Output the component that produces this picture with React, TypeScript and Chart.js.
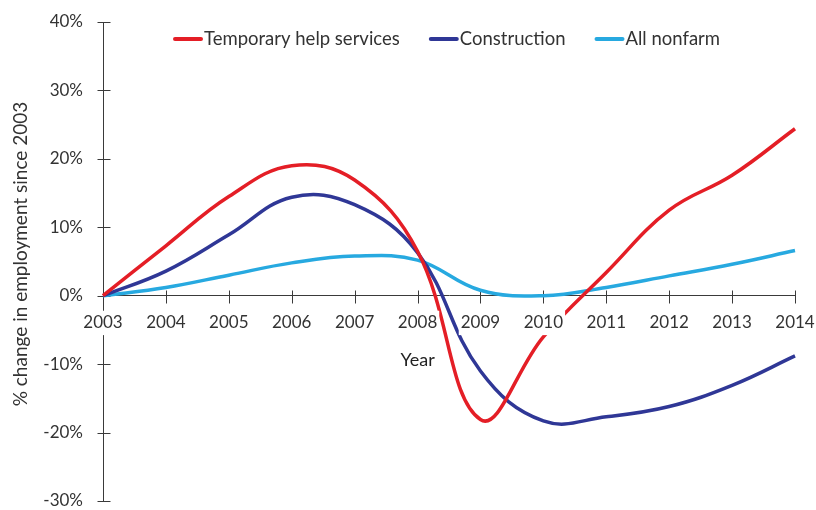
import React, { useEffect, useRef } from "react";
import { Chart, registerables } from "chart.js";

Chart.register(...registerables);

// Yearly points, 2003–2014
const years = [2003, 2004, 2005, 2006, 2007, 2008, 2009, 2010, 2011, 2012, 2013, 2014];

// % change in employment since 2003
const temporaryHelp = [0, 7.3, 14.5, 19.0, 16.9, 6.5, -18.1, -6.0, 3.4, 12.5, 17.6, 24.4];
const construction = [0, 3.6, 8.9, 14.4, 13.3, 6.3, -11.0, -18.3, -17.7, -16.2, -13.1, -8.8];
const allNonfarm = [0, 1.2, 3.0, 4.8, 5.8, 5.2, 0.8, 0.0, 1.2, 2.9, 4.6, 6.6];

const seriesNames = ["Temporary help services", "Construction", "All nonfarm"];
const seriesColors = ["#E41E26", "#2F3796", "#27A9E0"];

const yTicks = [-30, -20, -10, 0, 10, 20, 30, 40];

const yTitle = "% change in employment since 2003";
const xTitle = "Year";

const FONT = "Lato, 'Liberation Sans', sans-serif";
const AXIS_COLOR = "#3a3a3a";
const TEXT_COLOR = "#333333";

// Crossing tick marks on both axes, drawn beneath the series
const crossTicks = {
  id: "crossTicks",
  beforeDatasetsDraw(chart: any) {
    const { ctx } = chart;
    const xs = chart.scales.x;
    const ys = chart.scales.y;
    const zeroY = Math.round(ys.getPixelForValue(0)) + 0.5;
    const axisX = Math.round(chart.chartArea.left) + 0.5;
    ctx.save();
    ctx.strokeStyle = AXIS_COLOR;
    ctx.lineWidth = 1;
    ctx.beginPath();
    years.forEach((yr) => {
      const px = Math.round(xs.getPixelForValue(yr)) + 0.5;
      ctx.moveTo(px, zeroY - 6);
      ctx.lineTo(px, zeroY + 7);
    });
    yTicks.forEach((v) => {
      const py = Math.round(ys.getPixelForValue(v)) + 0.5;
      ctx.moveTo(axisX - 6, py);
      ctx.lineTo(axisX + 7, py);
    });
    ctx.stroke();
    ctx.restore();
  },
};

// Legend row across the top, axis titles
const annotations = {
  id: "annotations",
  afterDraw(chart: any) {
    const { ctx } = chart;
    const xs = chart.scales.x;
    ctx.save();

    // legend
    ctx.font = `18.5px ${FONT}`;
    ctx.textBaseline = "middle";
    ctx.textAlign = "left";
    let x = 175;
    const ly = 39;
    seriesNames.forEach((name, i) => {
      ctx.strokeStyle = seriesColors[i];
      ctx.lineWidth = 4;
      ctx.lineCap = "round";
      ctx.beginPath();
      ctx.moveTo(x, ly);
      ctx.lineTo(x + 26, ly);
      ctx.stroke();
      ctx.fillStyle = TEXT_COLOR;
      ctx.fillText(name, x + 29, ly);
      x += 29 + ctx.measureText(name).width + 31;
    });

    // x axis title under the 2008 tick
    ctx.textAlign = "center";
    ctx.font = `18px ${FONT}`;
    ctx.fillStyle = "#222222";
    ctx.fillText(xTitle, xs.getPixelForValue(2008), 360);

    // y axis title
    ctx.translate(21, 254);
    ctx.rotate(-Math.PI / 2);
    ctx.font = `19px ${FONT}`;
    ctx.fillStyle = TEXT_COLOR;
    ctx.fillText(yTitle, 0, 0);
    ctx.restore();
  },
};

export default function App() {
  const canvasRef = useRef<HTMLCanvasElement | null>(null);

  useEffect(() => {
    document.body.style.margin = "0";
    const canvas = canvasRef.current;
    if (!canvas) return;

    const makePoints = (vals: number[]) => years.map((yr, i) => ({ x: yr, y: vals[i] }));
    const allSeries = [temporaryHelp, construction, allNonfarm];

    const chart = new Chart(canvas, {
      type: "line",
      data: {
        datasets: allSeries.map((vals, i) => ({
          label: seriesNames[i],
          data: makePoints(vals),
          borderColor: seriesColors[i],
          backgroundColor: seriesColors[i],
          borderWidth: 3.5,
          pointRadius: 0,
          tension: 0.4,
          fill: false,
          clip: false as any,
        })),
      },
      options: {
        animation: false,
        responsive: false,
        devicePixelRatio: 1,
        layout: { padding: { left: 0, top: 22, right: 21, bottom: 9 } },
        plugins: {
          legend: { display: false },
          tooltip: { enabled: false },
        },
        scales: {
          x: {
            type: "linear",
            position: { y: 0 } as any,
            min: 2003,
            max: 2014,
            afterBuildTicks(scale: any) {
              scale.ticks = years.map((v) => ({ value: v }));
            },
            afterFit(scale: any) {
              scale.paddingLeft = 0;
              scale.paddingRight = 0;
            },
            ticks: {
              stepSize: 1,
              padding: 17,
              z: 1,
              color: TEXT_COLOR,
              font: { family: FONT, size: 17 },
              maxRotation: 0,
              autoSkip: false,
              showLabelBackdrop: true,
              backdropColor: "#ffffff",
              backdropPadding: 2,
              callback: (v: any) => String(v),
            },
            grid: { display: true, drawOnChartArea: false, drawTicks: false },
            border: { display: true, color: AXIS_COLOR, width: 1 },
          },
          y: {
            type: "linear",
            position: "left",
            min: -30,
            max: 40,
            afterBuildTicks(scale: any) {
              scale.ticks = yTicks.map((v) => ({ value: v }));
            },
            afterFit(scale: any) {
              scale.width = 103;
              scale.paddingTop = 0;
              scale.paddingBottom = 0;
            },
            ticks: {
              stepSize: 10,
              padding: 20,
              color: TEXT_COLOR,
              font: { family: FONT, size: 17 },
              callback: (v: any) => `${v}%`,
            },
            grid: { display: true, drawOnChartArea: false, drawTicks: false },
            border: { display: true, color: AXIS_COLOR, width: 1 },
          },
        },
      },
      plugins: [crossTicks, annotations],
    });

    return () => chart.destroy();
  }, []);

  return (
    <div style={{ position: "absolute", left: 0, top: 0, width: 816, height: 510, background: "#ffffff" }}>
      <canvas ref={canvasRef} width={816} height={510} />
    </div>
  );
}
